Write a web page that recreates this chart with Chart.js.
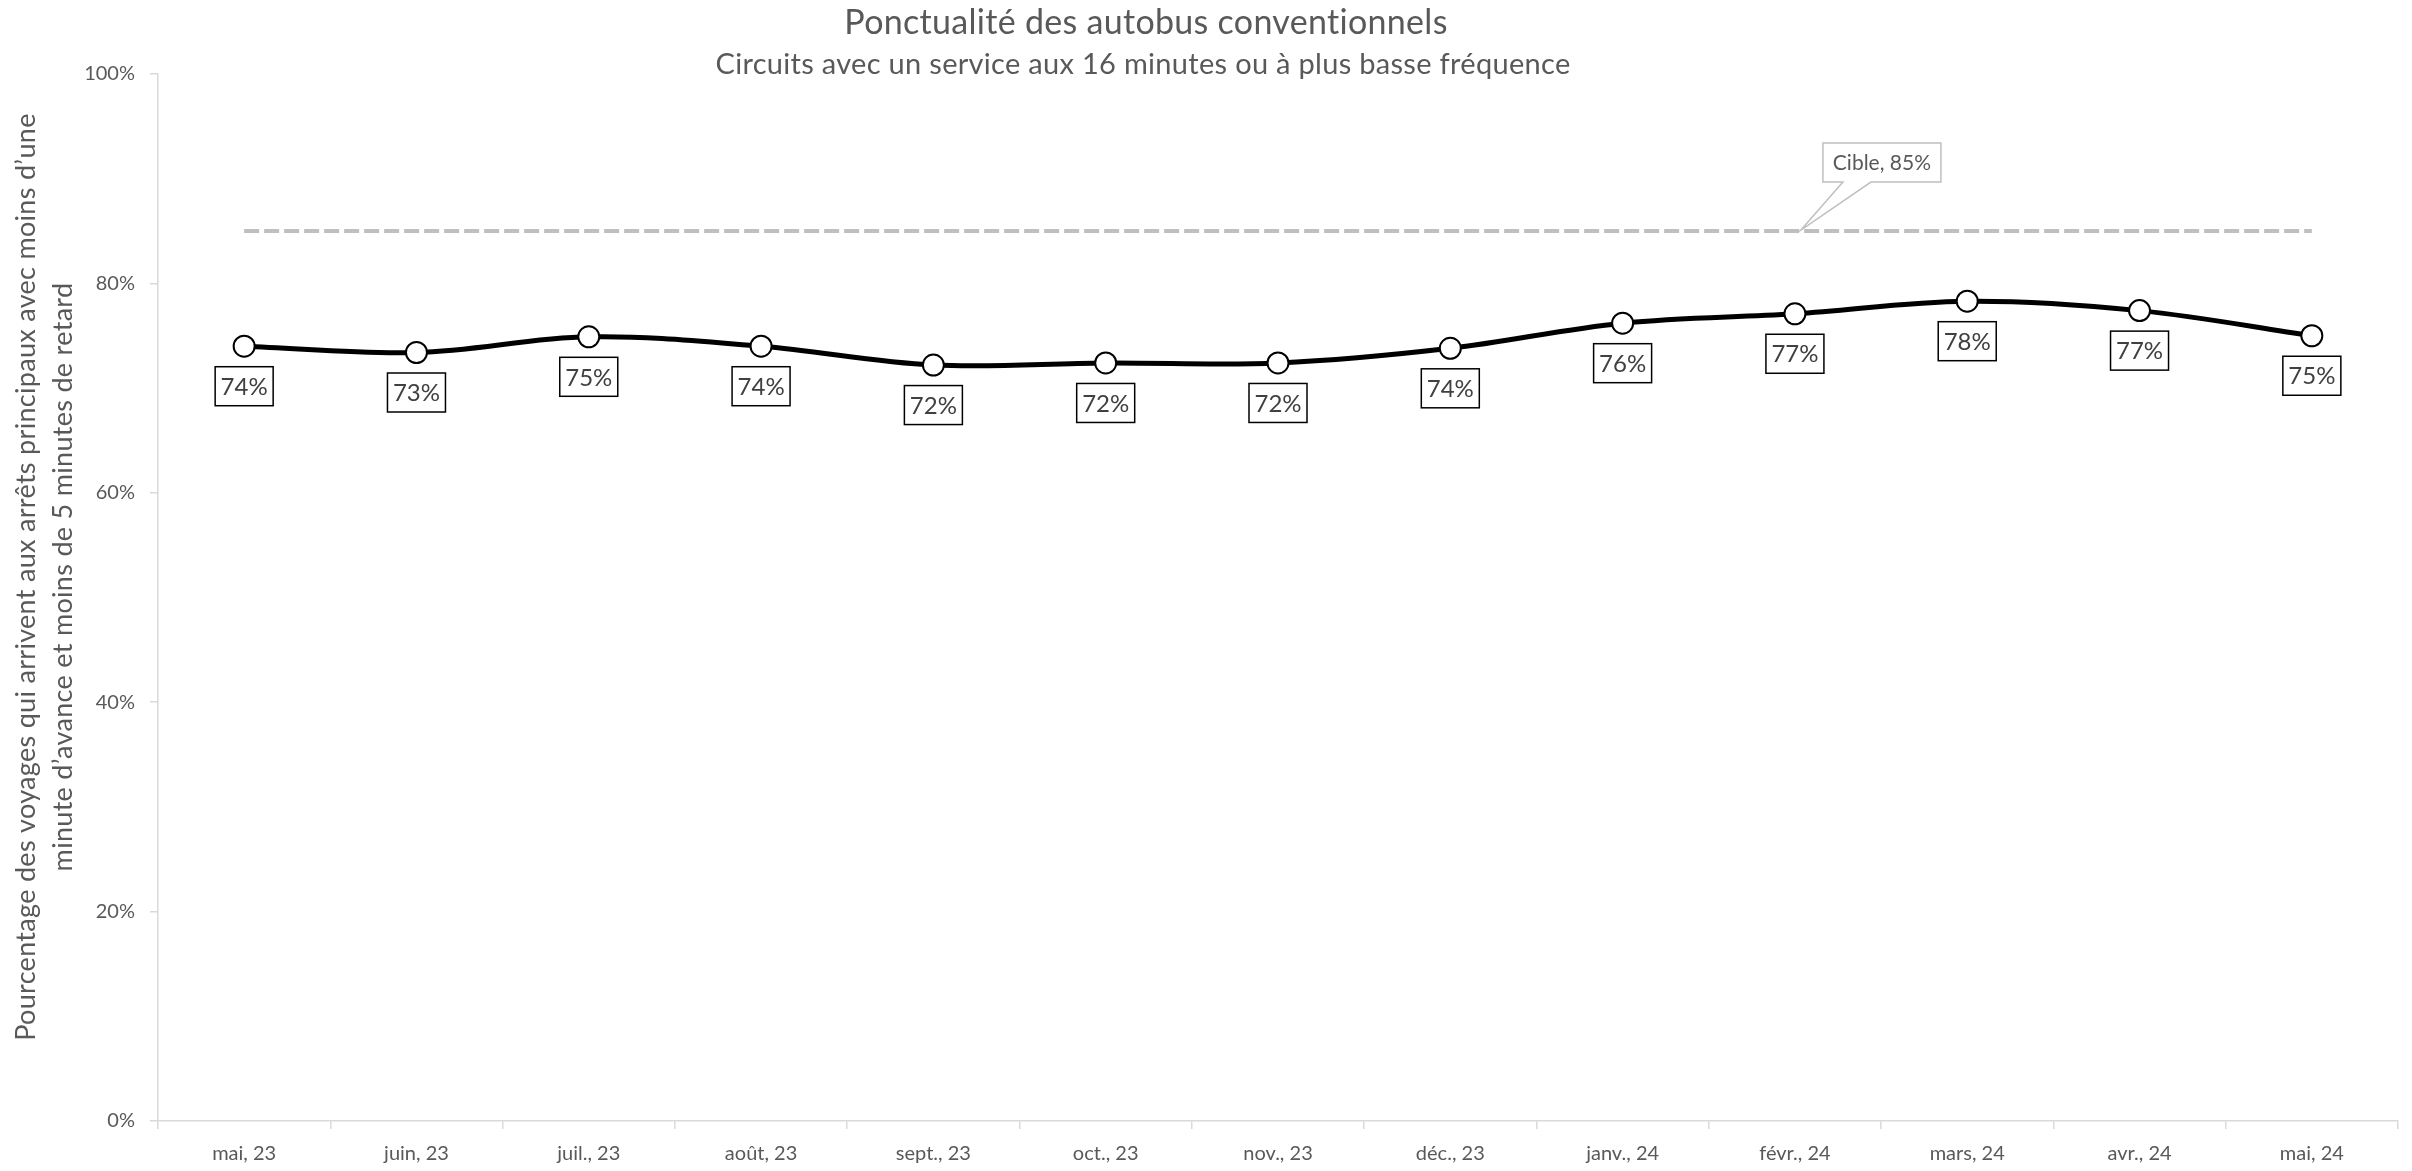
<!DOCTYPE html>
<html lang="fr">
<head>
    <meta charset="UTF-8">
    <title>Ponctualité des autobus conventionnels</title>
    <script src="https://cdn.jsdelivr.net/npm/chart.js"></script>
    <style>
        html, body { margin: 0; padding: 0; background: #fff; }
        #wrap { width: 2412px; height: 1171px; }
    </style>
</head>
<body>
<div id="wrap">
    <canvas id="ponctChart" width="2412" height="1171"></canvas>
</div>

<script>
    const FONT = 'Lato, "Open Sans", sans-serif';

    const categories = ['mai, 23', 'juin, 23', 'juil., 23', 'août, 23', 'sept., 23', 'oct., 23', 'nov., 23',
        'déc., 23', 'janv., 24', 'févr., 24', 'mars, 24', 'avr., 24', 'mai, 24'];
    const ponctualite = [74.0, 73.4, 74.9, 74.0, 72.2, 72.4, 72.4, 73.8, 76.2, 77.1, 78.3, 77.4, 75.0];
    const cible = [85, 85, 85, 85, 85, 85, 85, 85, 85, 85, 85, 85, 85];
    const cibleLabel = 'Cible, 85%';
    const cibleLabelIndex = 9;

    const titre = 'Ponctualité des autobus conventionnels';
    const sousTitre = 'Circuits avec un service aux 16 minutes ou à plus basse fréquence';
    const titreAxeY = ['Pourcentage des voyages qui arrivent aux arrêts principaux avec moins d’une',
        'minute d’avance et moins de 5 minutes de retard'];

    // titres + titre de l'axe Y dessinés à la main
    const titlesPlugin = {
        id: 'titles',
        beforeDraw(chart) {
            const ctx = chart.ctx;
            ctx.save();
            ctx.fillStyle = '#fff';
            ctx.fillRect(0, 0, chart.width, chart.height);
            ctx.fillStyle = '#595959';
            ctx.textAlign = 'center';
            ctx.textBaseline = 'middle';
            // pas de ligature "ti" de Lato
            ctx.letterSpacing = '0.3px';
            ctx.font = '34px ' + FONT;
            ctx.fillText(titre, 1146, 23);
            ctx.font = '29px ' + FONT;
            ctx.fillText(sousTitre, 1143, 65);

            ctx.font = '27px ' + FONT;
            ctx.translate(0, 577);
            ctx.rotate(-Math.PI / 2);
            ctx.fillText(titreAxeY[0], 0, 26);
            ctx.fillText(titreAxeY[1], 0, 63);
            ctx.restore();
        }
    };

    // étiquettes encadrées sous les points + bulle "Cible"
    const labelsPlugin = {
        id: 'labels',
        afterDatasetsDraw(chart) {
            const ctx = chart.ctx;
            ctx.save();
            const pts = chart.getDatasetMeta(0).data;
            ctx.font = '24px ' + FONT;
            ctx.textAlign = 'center';
            ctx.textBaseline = 'middle';
            pts.forEach((p, i) => {
                const cx = p.x, cy = p.y + 40;
                const w = 58, h = 39;
                ctx.fillStyle = '#fff';
                ctx.fillRect(cx - w / 2, cy - h / 2, w, h);
                ctx.lineWidth = 1.5;
                ctx.strokeStyle = '#000';
                ctx.strokeRect(cx - w / 2, cy - h / 2, w, h);
                ctx.fillStyle = '#404040';
                ctx.fillText(Math.round(ponctualite[i]) + '%', cx, cy + 1);
            });

            // bulle de la cible
            const t = chart.getDatasetMeta(1).data[cibleLabelIndex];
            const tx = t.x + 6, ty = t.y - 1;
            const left = tx + 22, top = ty - 87, w = 118, h = 39;
            ctx.beginPath();
            ctx.moveTo(left, top);
            ctx.lineTo(left + w, top);
            ctx.lineTo(left + w, top + h);
            ctx.lineTo(left + 48, top + h);
            ctx.lineTo(tx, ty);
            ctx.lineTo(left + 20, top + h);
            ctx.lineTo(left, top + h);
            ctx.closePath();
            ctx.fillStyle = '#fff';
            ctx.fill();
            ctx.lineWidth = 1.5;
            ctx.strokeStyle = '#BFBFBF';
            ctx.stroke();
            ctx.fillStyle = '#595959';
            ctx.font = '21px ' + FONT;
            ctx.fillText(cibleLabel, left + w / 2, top + h / 2 + 1);
            ctx.restore();
        }
    };

    const ctx = document.getElementById('ponctChart').getContext('2d');
    const chart = new Chart(ctx, {
        type: 'line',
        data: {
            labels: categories,
            datasets: [{
                label: 'Ponctualité',
                data: ponctualite,
                borderColor: '#000',
                borderWidth: 5,
                tension: 0.35,
                pointRadius: 10.5,
                pointBorderWidth: 2,
                pointBackgroundColor: '#fff',
                pointBorderColor: '#000',
                fill: false
            }, {
                label: 'Cible',
                data: cible,
                borderColor: '#BFBFBF',
                borderWidth: 4,
                borderDash: [15, 5],
                pointRadius: 0,
                fill: false
            }]
        },
        options: {
            responsive: false,
            animation: false,
            layout: { padding: { top: 74, right: 14, left: 0, bottom: 0 } },
            plugins: {
                legend: { display: false },
                tooltip: { enabled: false }
            },
            scales: {
                x: {
                    offset: true,
                    grid: { offset: true, drawOnChartArea: false, tickLength: 8, color: '#D9D9D9', lineWidth: 1.5 },
                    border: { color: '#D9D9D9', width: 1.5 },
                    ticks: { color: '#595959', font: { family: FONT, size: 20 }, padding: 13, maxRotation: 0 },
                    afterFit(scale) { scale.height = 50; }
                },
                y: {
                    min: 0,
                    max: 100,
                    ticks: {
                        stepSize: 20,
                        color: '#595959',
                        font: { family: FONT, size: 20 },
                        padding: 15,
                        callback: v => v + '%'
                    },
                    grid: { drawOnChartArea: false, tickLength: 8, color: '#D9D9D9', lineWidth: 1.5 },
                    border: { color: '#D9D9D9', width: 1.5 },
                    afterFit(scale) { scale.width = 158; }
                }
            }
        },
        plugins: [titlesPlugin, labelsPlugin]
    });
</script>
</body>
</html>
